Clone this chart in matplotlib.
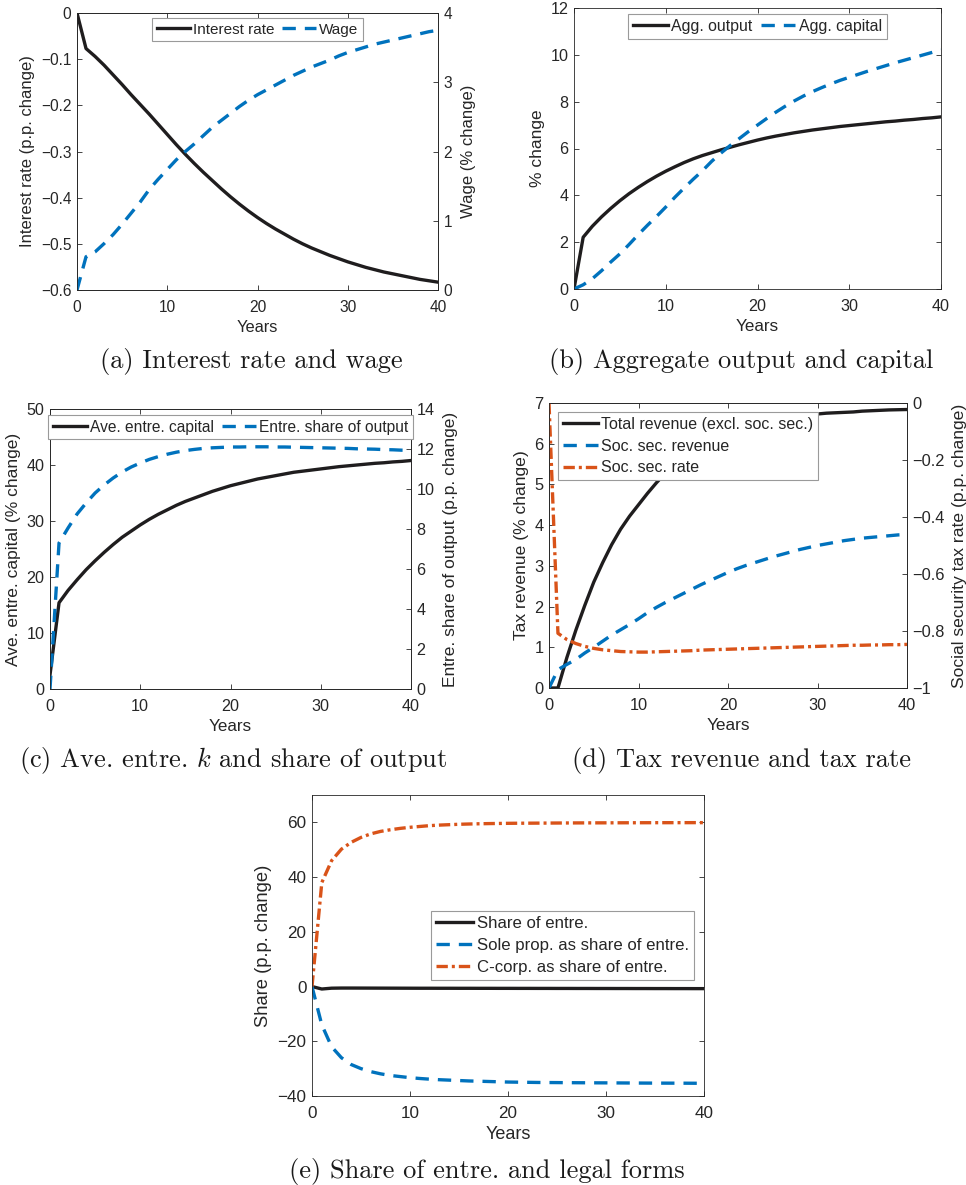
import matplotlib

matplotlib.use('Agg')
import matplotlib.pyplot as plt
from matplotlib.ticker import FuncFormatter, MultipleLocator

years = list(range(41))

# (a) interest rate (p.p.) and wage (%)
interest_rate = [0, -0.077, -0.094, -0.113, -0.134, -0.155, -0.177, -0.198, -0.219, -0.241,
                 -0.263, -0.285, -0.306, -0.326, -0.345, -0.363, -0.381, -0.398, -0.414, -0.429,
                 -0.443, -0.456, -0.468, -0.479, -0.49, -0.5, -0.509, -0.517, -0.525, -0.532,
                 -0.539, -0.545, -0.551, -0.556, -0.561, -0.565, -0.569, -0.573, -0.577, -0.58,
                 -0.583]
wage = [0, 0.48, 0.55, 0.67, 0.80, 0.95, 1.11, 1.27, 1.45, 1.60, 1.74, 1.88, 2.00, 2.11, 2.23,
        2.35, 2.45, 2.55, 2.65, 2.74, 2.82, 2.89, 2.96, 3.03, 3.10, 3.16, 3.22, 3.27, 3.32, 3.38,
        3.43, 3.47, 3.51, 3.55, 3.58, 3.61, 3.64, 3.67, 3.70, 3.73, 3.75]

# (b) aggregate output and capital (%)
agg_output = [0, 2.21, 2.68, 3.08, 3.44, 3.77, 4.07, 4.34, 4.59, 4.82, 5.03, 5.22, 5.40, 5.56,
              5.70, 5.82, 5.94, 6.05, 6.16, 6.26, 6.36, 6.45, 6.53, 6.60, 6.67, 6.73, 6.79, 6.84,
              6.89, 6.94, 6.98, 7.02, 7.06, 7.10, 7.14, 7.17, 7.21, 7.24, 7.28, 7.31, 7.35]
agg_capital = [0, 0.18, 0.44, 0.78, 1.15, 1.50, 1.90, 2.32, 2.72, 3.10, 3.50, 3.92, 4.31, 4.69,
               5.05, 5.45, 5.80, 6.12, 6.42, 6.72, 7.00, 7.28, 7.55, 7.80, 8.03, 8.24, 8.43, 8.60,
               8.76, 8.91, 9.04, 9.17, 9.30, 9.42, 9.54, 9.66, 9.77, 9.88, 9.99, 10.10, 10.21]

# (c) average entrepreneurial capital (%) and entre. share of output (p.p.)
entre_capital = [2.5, 15.4, 17.6, 19.5, 21.3, 22.9, 24.4, 25.8, 27.1, 28.2, 29.3, 30.3, 31.2,
                 32.0, 32.8, 33.5, 34.1, 34.7, 35.3, 35.8, 36.3, 36.7, 37.1, 37.5, 37.8, 38.1,
                 38.4, 38.7, 38.9, 39.1, 39.3, 39.5, 39.7, 39.85, 40.0, 40.15, 40.3, 40.4, 40.55,
                 40.65, 40.8]
entre_share_output = [0, 7.3, 8.05, 8.75, 9.3, 9.8, 10.2, 10.55, 10.85, 11.1, 11.3, 11.48, 11.62,
                      11.74, 11.84, 11.92, 11.98, 12.03, 12.06, 12.08, 12.1, 12.1, 12.11, 12.11,
                      12.11, 12.1, 12.1, 12.09, 12.08, 12.07, 12.06, 12.05, 12.04, 12.03, 12.01,
                      12.0, 11.99, 11.97, 11.96, 11.94, 11.93]

# (d) tax revenue (%) and social security tax rate (p.p.)
total_revenue = [0, 0, 0.75, 1.42, 2.03, 2.6, 3.08, 3.52, 3.9, 4.22, 4.5, 4.78, 5.04, 5.28, 5.5,
                 5.7, 5.87, 6.02, 6.15, 6.26, 6.35, 6.43, 6.5, 6.55, 6.6, 6.64, 6.67, 6.69, 6.71,
                 6.72, 6.73, 6.75, 6.76, 6.77, 6.78, 6.8, 6.81, 6.82, 6.83, 6.835, 6.84]
soc_sec_revenue = [0, 0.45, 0.58, 0.70, 0.86, 1.0, 1.15, 1.3, 1.43, 1.56, 1.7, 1.85, 1.98, 2.1,
                   2.21, 2.32, 2.43, 2.54, 2.64, 2.74, 2.84, 2.93, 3.01, 3.08, 3.15, 3.22, 3.28,
                   3.34, 3.40, 3.45, 3.50, 3.54, 3.58, 3.62, 3.65, 3.68, 3.70, 3.72, 3.74, 3.76,
                   3.77]
soc_sec_rate = [0, -0.808, -0.830, -0.844, -0.854, -0.861, -0.866, -0.869, -0.872, -0.873,
                -0.874, -0.874, -0.873, -0.872, -0.871, -0.870, -0.869, -0.867, -0.866, -0.865,
                -0.864, -0.863, -0.862, -0.861, -0.860, -0.859, -0.858, -0.857, -0.856, -0.855,
                -0.854, -0.853, -0.852, -0.851, -0.850, -0.850, -0.849, -0.849, -0.848, -0.848,
                -0.847]

# (e) share of entrepreneurs and legal forms (p.p.)
share_entre = [0, -0.9, -0.6, -0.55, -0.55, -0.56, -0.57, -0.58, -0.59, -0.6, -0.61, -0.62,
               -0.62, -0.63, -0.63, -0.64, -0.64, -0.65, -0.65, -0.66, -0.66, -0.67, -0.67,
               -0.68, -0.68, -0.69, -0.69, -0.7, -0.7, -0.71, -0.71, -0.72, -0.72, -0.73, -0.73,
               -0.74, -0.74, -0.75, -0.75, -0.76, -0.76]
sole_prop_share = [0, -14, -22, -26, -28.5, -30, -31.1, -31.9, -32.5, -32.9, -33.3, -33.6,
                   -33.85, -34.05, -34.2, -34.35, -34.5, -34.6, -34.7, -34.8, -34.9, -34.95,
                   -35.0, -35.05, -35.08, -35.1, -35.13, -35.15, -35.17, -35.19, -35.2, -35.22,
                   -35.24, -35.26, -35.28, -35.29, -35.3, -35.31, -35.32, -35.34, -35.35]
ccorp_share = [0, 38, 46, 50.2, 52.7, 54.5, 55.8, 56.7, 57.3, 57.8, 58.2, 58.5, 58.8, 59.0,
               59.15, 59.3, 59.4, 59.48, 59.55, 59.6, 59.65, 59.68, 59.7, 59.72, 59.74, 59.76,
               59.78, 59.8, 59.81, 59.82, 59.83, 59.84, 59.85, 59.86, 59.87, 59.88, 59.88, 59.89,
               59.89, 59.9, 59.9]

BLACK = '#1f1d1e'
BLUE = '#0072BD'
ORANGE = '#D95319'
AXC = '#262626'
LW = 2.4
DASH = (4.0, 2.7)
DASHDOT = (3.4, 1.2, 0.9, 1.2)

plt.rcParams['font.family'] = ['Liberation Sans', 'DejaVu Sans']
plt.rcParams['mathtext.fontset'] = 'cm'
plt.rcParams['axes.edgecolor'] = AXC
plt.rcParams['axes.linewidth'] = 0.6
plt.rcParams['text.color'] = AXC
plt.rcParams['axes.labelcolor'] = AXC

W, H = 966, 1185


def _tick_fmt(v, _pos):
    s = f'{round(v, 8):g}'
    if s in ('0', '-0'):
        return '0'
    return s.replace('-', '\u2212')


def _rect(left, top, right, bottom):
    return [left / W, 1 - bottom / H, (right - left) / W, (bottom - top) / H]


def _style(ax, s, right_ticks=True):
    ax.tick_params(direction='in', length=3.6, width=0.6, labelsize=11.2 * s,
                   colors=AXC, pad=4, top=True, right=right_ticks)
    ax.tick_params(axis='x', pad=7)
    ax.yaxis.set_major_formatter(FuncFormatter(_tick_fmt))
    ax.xaxis.set_major_formatter(FuncFormatter(_tick_fmt))
    ax.set_xlim(0, 40)
    ax.xaxis.set_major_locator(MultipleLocator(10))
    ax.set_xlabel('Years', fontsize=11.8 * s, labelpad=4)


def _right(ax, s):
    ax2 = ax.twinx()
    ax2.tick_params(direction='in', length=3.6, width=0.6, labelsize=11.2 * s,
                    colors=AXC, pad=4)
    ax2.yaxis.set_major_formatter(FuncFormatter(_tick_fmt))
    return ax2


def _legend(ax, handles, loc, anchor, s, ncol=1):
    leg = ax.legend(handles=handles, loc=loc, bbox_to_anchor=anchor, ncol=ncol,
                    fontsize=11 * s, frameon=True, fancybox=False, framealpha=1,
                    edgecolor='#9a9a9a', borderaxespad=0, borderpad=0.3,
                    handlelength=2.2, handletextpad=0.2, columnspacing=0.5,
                    labelspacing=0.42)
    leg.get_frame().set_linewidth(0.8)
    return leg


def _caption(fig, text, xc, ybase):
    fig.text(xc / W, 1 - ybase / H, text, ha='center', va='baseline',
             fontsize=19, fontfamily='cmr10', color='#1a1a1a')


fig = plt.figure(figsize=(W / 100, H / 100), dpi=100)

# (a)
s = 1.0
ax = fig.add_axes(_rect(77, 13, 438, 290))
_style(ax, s, right_ticks=False)
ax2 = _right(ax, s)
l1, = ax.plot(years, interest_rate, color=BLACK, lw=LW, label='Interest rate')
l2, = ax2.plot(years, wage, color=BLUE, lw=LW, dashes=DASH, label='Wage')
ax.set_ylim(-0.6, 0)
ax.yaxis.set_major_locator(MultipleLocator(0.1))
ax2.set_ylim(0, 4)
ax2.yaxis.set_major_locator(MultipleLocator(1))
ax.set_ylabel('Interest rate (p.p. change)', fontsize=12 * s, labelpad=4)
ax2.set_ylabel('Wage (% change)', fontsize=12 * s, labelpad=6)
_legend(ax2, [l1, l2], 'upper center', (0.5, 1 - 5 / 277), s, ncol=2)
_caption(fig, '(a) Interest rate and wage', 251, 368)

# (b)
s = 1.04
ax = fig.add_axes(_rect(574, 8, 941, 289))
_style(ax, s)
l1, = ax.plot(years, agg_output, color=BLACK, lw=LW, label='Agg. output')
l2, = ax.plot(years, agg_capital, color=BLUE, lw=LW, dashes=DASH, label='Agg. capital')
ax.set_ylim(0, 12)
ax.yaxis.set_major_locator(MultipleLocator(2))
ax.set_ylabel('% change', fontsize=12 * s, labelpad=4)
_legend(ax, [l1, l2], 'upper center', (0.5, 1 - 6 / 281), s, ncol=2)
_caption(fig, '(b) Aggregate output and capital', 741, 368)

# (c)
s = 1.04
ax = fig.add_axes(_rect(50, 409, 411, 689))
_style(ax, s, right_ticks=False)
ax2 = _right(ax, s)
l1, = ax.plot(years, entre_capital, color=BLACK, lw=LW, label='Ave. entre. capital')
l2, = ax2.plot(years, entre_share_output, color=BLUE, lw=LW, dashes=DASH,
               label='Entre. share of output')
ax.set_ylim(0, 50)
ax.yaxis.set_major_locator(MultipleLocator(10))
ax2.set_ylim(0, 14)
ax2.yaxis.set_major_locator(MultipleLocator(2))
ax.set_ylabel('Ave. entre. capital (% change)', fontsize=12 * s, labelpad=4)
ax2.set_ylabel('Entre. share of output (p.p. change)', fontsize=12 * s, labelpad=6)
_legend(ax2, [l1, l2], 'upper center', (0.5, 1 - 6 / 280), 1.015, ncol=2)
_caption(fig, '(c) Ave. entre. $k$ and share of output', 233, 767)

# (d)
s = 1.05
ax = fig.add_axes(_rect(549, 403, 907, 688))
_style(ax, s, right_ticks=False)
ax2 = _right(ax, s)
l1, = ax.plot(years, total_revenue, color=BLACK, lw=LW,
              label='Total revenue (excl. soc. sec.)')
l2, = ax.plot(years, soc_sec_revenue, color=BLUE, lw=LW, dashes=DASH,
              label='Soc. sec. revenue')
l3, = ax2.plot(years, soc_sec_rate, color=ORANGE, lw=LW, dashes=DASHDOT,
               label='Soc. sec. rate')
ax.set_ylim(0, 7)
ax.yaxis.set_major_locator(MultipleLocator(1))
ax2.set_ylim(-1, 0)
ax2.set_yticks([-1, -0.8, -0.6, -0.4, -0.2, 0])
ax.set_ylabel('Tax revenue (% change)', fontsize=12 * s, labelpad=4)
ax2.set_ylabel('Social security tax rate (p.p. change)', fontsize=12 * s, labelpad=5)
_legend(ax2, [l1, l2, l3], 'upper left', (9 / 358, 1 - 9 / 285), s)
_caption(fig, '(d) Tax revenue and tax rate', 741, 767)

# (e)
s = 1.1
ax = fig.add_axes(_rect(312, 795, 704, 1096))
_style(ax, s)
l1, = ax.plot(years, share_entre, color=BLACK, lw=LW, label='Share of entre.')
l2, = ax.plot(years, sole_prop_share, color=BLUE, lw=LW, dashes=DASH,
              label='Sole prop. as share of entre.')
l3, = ax.plot(years, ccorp_share, color=ORANGE, lw=LW, dashes=DASHDOT,
              label='C-corp. as share of entre.')
ax.set_ylim(-40, 70)
ax.set_yticks([-40, -20, 0, 20, 40, 60])
ax.set_ylabel('Share (p.p. change)', fontsize=12 * s, labelpad=4)
_legend(ax, [l1, l2, l3], 'upper right', (382 / 392, 1 - 116 / 301), s)
_caption(fig, '(e) Share of entre. and legal forms', 487, 1178)

fig.savefig('out.png', dpi=100)
plt.close(fig)
